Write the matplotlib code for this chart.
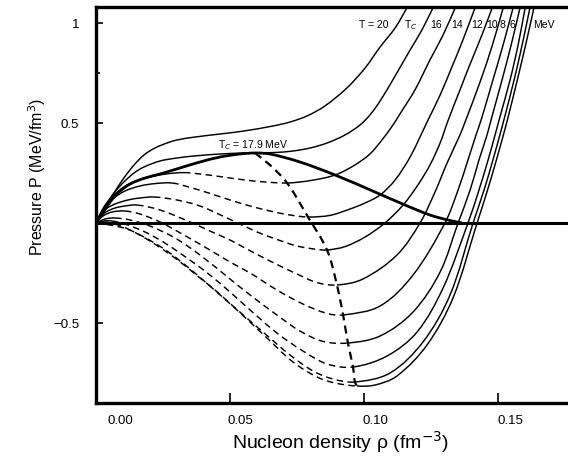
import numpy as np
import matplotlib
matplotlib.use("Agg")
import matplotlib.pyplot as plt
import matplotlib.transforms as mtransforms
from matplotlib.path import Path
from matplotlib.patches import PathPatch

plt.rcParams['font.family'] = ['Liberation Sans', 'DejaVu Sans']

# ---------------- data ----------------
rho_T20 = [0, .0015, .0041, .0067, .0104, .0142, .0179, .022, .0265, .0302, .037, .0463, .0552, .066,
           .0724, .0787, .0854, .0936, .1004, .106, .1116, .116]
P_T20 = [0, .035, .09, .15, .225, .29, .34, .375, .40, .415, .43, .445, .46, .485,
         .505, .535, .585, .675, .775, .88, .975, 1.075]

rho_Tc = [0, .0015, .0037, .0067, .0104, .0142, .0179, .0239, .0302, .0366, .0463, .0552, .0593,
          .0675, .0735, .0799, .0862, .0929, .0985, .1022, .106, .1116, .1172, .1216, .1257]
P_Tc = [0, .04, .09, .15, .205, .25, .28, .31, .325, .335, .345, .35, .35,
        .353, .36, .375, .40, .44, .49, .54, .61, .735, .865, .965, 1.075]

rho_T16 = [0, .0015, .0037, .0067, .0104, .0149, .0201, .0261, .0328,
           .0388, .0463, .0556, .0631, .0713,
           .0799, .0892, .0966, .1022, .1067, .1108, .1134, .119, .1246, .1295, .134]
P_T16 = [0, .045, .095, .14, .18, .21, .23, .245, .252,
         .245, .232, .215, .205, .20,
         .212, .24, .29, .345, .415, .49, .545, .665, .815, .94, 1.075]

rho_T14 = [0, .0015, .0037, .0067, .0108, .0164, .022, .0284,
           .0351, .0425, .05, .0575, .0649, .0724, .0791,
           .0873, .0948, .1004, .106, .1116, .1172, .1239, .1284, .1328, .1369, .1414]
P_T14 = [0, .04, .085, .125, .16, .185, .197, .20,
         .178, .148, .115, .085, .06, .04, .03,
         .038, .07, .10, .14, .215, .33, .515, .64, .78, .915, 1.075]

rho_T12 = [0, .0015, .0037, .0071, .0119, .0164, .0216,
           .0302, .0388, .0489, .0601, .066, .075, .0825, .0862,
           .0929, .1004, .1078, .1146, .1201, .1246, .1284, .1313, .1358, .1396, .144, .1478]
P_T12 = [0, .035, .07, .095, .115, .125, .13,
         .115, .085, .025, -.045, -.075, -.115, -.132, -.135,
         -.118, -.07, 0, .09, .19, .29, .40, .51, .665, .795, .94, 1.075]

rho_T10 = [0, .0015, .0037, .0071, .0108, .0153,
           .0239, .0351, .0425, .05, .0549, .0649, .075, .0825, .0899,
           .0996, .1123, .1209, .1265, .131, .1358, .138, .1433, .1478, .1519]
P_T10 = [0, .03, .055, .075, .085, .09,
         .065, .005, -.04, -.085, -.12, -.19, -.255, -.298, -.31,
         -.28, -.16, 0, .155, .30, .44, .515, .705, .885, 1.075]

rho_T8 = [0, .0026, .006, .0108,
          .0164, .0239, .0328, .0425, .05, .0575, .0675, .0772, .0862, .0922,
          .106, .1183, .1302, .1351, .1388, .1418, .1437, .1481, .1519, .1556]
P_T8 = [0, .035, .055, .06,
        .045, .005, -.06, -.135, -.195, -.25, -.335, -.405, -.452, -.46,
        -.415, -.26, 0, .165, .315, .44, .515, .715, .89, 1.075]

rho_T6 = [0, .0034, .0071,
          .0127, .0201, .0295, .0388, .05, .0575, .0675, .0761, .0847, .094,
          .106, .1183, .1284, .1351, .1396, .1429, .1459, .1474, .1515, .1549, .1582]
P_T6 = [0, .02, .025,
        .015, -.015, -.075, -.16, -.28, -.36, -.46, -.54, -.592, -.60,
        -.565, -.445, -.245, 0, .165, .315, .44, .515, .715, .89, 1.075]

rho_T4 = [0, .003, .006,
          .0108, .0183, .0257, .035, .0425, .05, .0575, .0675, .0772, .0862, .0959,
          .1086, .1198, .1295, .1388, .1429, .1463, .1489, .1504, .1545, .1575, .1601]
P_T4 = [0, .01, .01,
        -.005, -.045, -.10, -.185, -.26, -.345, -.435, -.55, -.64, -.705, -.72,
        -.665, -.545, -.325, 0, .165, .315, .44, .515, .715, .89, 1.075]

rho_T2 = [0, .003,
          .0071, .0127, .0201, .0295, .0388, .0444, .0511, .0623, .0724, .081, .0884, .0966,
          .1097, .122, .1321, .1407, .1448, .1481, .1507, .1522, .156, .159, .1619]
P_T2 = [0, .005,
        -.005, -.035, -.09, -.175, -.275, -.335, -.415, -.545, -.66, -.74, -.78, -.795,
        -.75, -.595, -.36, 0, .165, .315, .44, .515, .715, .89, 1.075]

rho_T0 = [0, .0052, .0116, .0179, .0265, .0351, .0425, .0526, .0638, .0735, .0825, .0892, .0974,
          .1041, .1123, .1235, .1332, .1422, .1461, .1494, .152, .1535, .1572, .1603, .1634]
P_T0 = [0, -.01, -.03, -.07, -.14, -.23, -.315, -.435, -.575, -.695, -.77, -.80, -.815,
        -.81, -.765, -.61, -.375, 0, .165, .315, .44, .515, .715, .89, 1.075]

# (start, end) index of the dashed (unstable) part; None = fully solid
dash_T20 = None
dash_Tc = None
dash_T16 = (8, 13)
dash_T14 = (7, 14)
dash_T12 = (6, 14)
dash_T10 = (5, 14)
dash_T8 = (3, 13)
dash_T6 = (2, 12)
dash_T4 = (2, 13)
dash_T2 = (1, 13)
dash_T0 = (0, 12)

# coexistence (binodal) curve
rho_coex = [0, .0022, .0045, .0067, .009, .0127, .0183, .0239, .0313, .0388, .0463, .0537, .0593,
            .0649, .0761, .0892, .1041, .1153, .1246, .1313, .1366]
P_coex = [0, .045, .09, .13, .16, .195, .225, .245, .275, .305, .33, .345, .35,
          .345, .305, .24, .155, .09, .04, .015, 0]

# spinodal (dashed thick)
rho_spin = [.0593, .0649, .0713, .0791, .0862, .0899, .0922, .094, .0959, .0966, .0974]
P_spin = [.35, .29, .20, .03, -.135, -.31, -.46, -.60, -.72, -.795, -.815]

x_ticks = [0.0, 0.05, 0.10, 0.15]
x_ticklabels = ["0.00", "0.05", "0.10", "0.15"]
y_ticks = [-0.5, 0.5, 1.0]
y_ticklabels = ["\u22120.5", "0.5", "1"]
top_labels = ["T = 20", "T$_C$", "16", "14", "12", "10", "8", "6", "MeV"]

# ---------------- figure ----------------
fig = plt.figure(figsize=(5.68, 4.59), dpi=100)
ax = fig.add_axes([96 / 568, 56 / 459, (578 - 96) / 568, 396 / 459])
ax.set_xlim(0, (578 - 96) / 2680)
ax.set_ylim(-0.9, 1.08)


def bezier_segments(xs, ys):
    """Smooth cubic Bezier pieces through the data points (computed in display space)."""
    pts = ax.transData.transform(np.column_stack([xs, ys]))
    n = len(pts)
    segs = []
    for i in range(n - 1):
        p0 = pts[i - 1] if i > 0 else pts[i]
        p1, p2 = pts[i], pts[i + 1]
        p3 = pts[i + 2] if i + 2 < n else pts[i + 1]
        d = np.linalg.norm(p2 - p1)
        t1 = p2 - p0
        t1 = t1 / max(np.linalg.norm(t1), 1e-9) * d / 3
        t2 = p3 - p1
        t2 = t2 / max(np.linalg.norm(t2), 1e-9) * d / 3
        segs.append((p1, p1 + t1, p2 - t2, p2))
    return segs


def draw_smooth(segs, i0, i1, **kw):
    if i1 <= i0:
        return
    verts = [segs[i0][0]]
    codes = [Path.MOVETO]
    for s in segs[i0:i1]:
        verts += [s[1], s[2], s[3]]
        codes += [Path.CURVE4] * 3
    verts = ax.transData.inverted().transform(np.array(verts))
    patch = PathPatch(Path(verts, codes), fill=False, transform=ax.transData,
                      capstyle='butt', joinstyle='round', **kw)
    ax.add_patch(patch)


curves = [(rho_T20, P_T20, dash_T20), (rho_Tc, P_Tc, dash_Tc), (rho_T16, P_T16, dash_T16),
          (rho_T14, P_T14, dash_T14), (rho_T12, P_T12, dash_T12), (rho_T10, P_T10, dash_T10),
          (rho_T8, P_T8, dash_T8), (rho_T6, P_T6, dash_T6), (rho_T4, P_T4, dash_T4),
          (rho_T2, P_T2, dash_T2), (rho_T0, P_T0, dash_T0)]

lw = 1.05
for r, p, d in curves:
    segs = bezier_segments(r, p)
    n = len(segs)
    if d is None:
        draw_smooth(segs, 0, n, edgecolor='black', lw=lw)
    else:
        i0, i1 = d
        draw_smooth(segs, 0, i0, edgecolor='black', lw=lw)
        draw_smooth(segs, i0, i1, edgecolor='black', lw=lw, linestyle=(0, (4.5, 3.0)))
        draw_smooth(segs, i1, n, edgecolor='black', lw=lw)

segs = bezier_segments(rho_coex, P_coex)
draw_smooth(segs, 0, len(segs), edgecolor='black', lw=2.0)
segs = bezier_segments(rho_spin, P_spin)
draw_smooth(segs, 0, len(segs), edgecolor='black', lw=1.6, linestyle=(0, (3.6, 2.4)))
ax.axhline(0, color='black', lw=2.2)

for s in ['left', 'bottom', 'top']:
    ax.spines[s].set_linewidth(2.4)
ax.spines['right'].set_visible(False)

ax.set_xticks(x_ticks)
ax.set_xticklabels(x_ticklabels, fontsize=9.5)
ax.set_yticks(y_ticks)
ax.set_yticklabels(y_ticklabels, fontsize=9.5)
ax.set_yticks([0.75], minor=True)
ax.tick_params(axis='both', which='both', direction='in', width=1.2)
ax.tick_params(axis='x', length=7, pad=9)
ax.tick_params(axis='y', length=5, pad=12)
ax.tick_params(which='minor', length=3)
ax.tick_params(top=False, right=False)
label_shift_px = [24, 10, 11, 12]
for lab, sh in zip(ax.get_xticklabels(), label_shift_px):
    off = mtransforms.ScaledTranslation(sh / 100, 0, fig.dpi_scale_trans)
    lab.set_transform(lab.get_transform() + off)

# labels above curves
label_x = [374, 411, 436, 457, 477, 492, 502, 512, 544]
for t, xp in zip(top_labels, label_x):
    fig.text(xp / 568, 1 - 25 / 459, t, fontsize=7.5, ha='center', va='center')
fig.text(253 / 568, 1 - 145 / 459, "T$_C$ = 17.9 MeV", fontsize=7.5, ha='center', va='center')

fig.text(37 / 568, 1 - 177 / 459, "Pressure P (MeV/fm$^3$)", rotation=90,
         fontsize=11.5, ha='center', va='center')
fig.text(340 / 568, 1 - 442 / 459, "Nucleon density \u03c1 (fm$^{-3}$)",
         fontsize=14, ha='center', va='center')

fig.savefig("out.png", dpi=100)
